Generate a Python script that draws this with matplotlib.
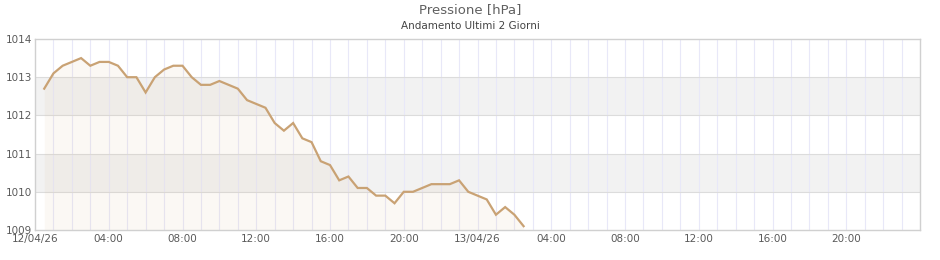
import matplotlib
matplotlib.use("Agg")
import matplotlib.pyplot as plt
import numpy as np

# ore dall'inizio del 12/04/26, una lettura ogni 30 minuti
ore = [0.5 * i for i in range(1, 54)]
pressione = [
    1012.7, 1013.1, 1013.3, 1013.4, 1013.5, 1013.3, 1013.4, 1013.4, 1013.3, 1013.0,
    1013.0, 1012.6, 1013.0, 1013.2, 1013.3, 1013.3, 1013.0, 1012.8, 1012.8, 1012.9,
    1012.8, 1012.7, 1012.4, 1012.3, 1012.2, 1011.8, 1011.6, 1011.8, 1011.4, 1011.3,
    1010.8, 1010.7, 1010.3, 1010.4, 1010.1, 1010.1, 1009.9, 1009.9, 1009.7, 1010.0,
    1010.0, 1010.1, 1010.2, 1010.2, 1010.2, 1010.3, 1010.0, 1009.9, 1009.8, 1009.4,
    1009.6, 1009.4, 1009.1,
]
tick_ore = [0, 4, 8, 12, 16, 20, 24, 28, 32, 36, 40, 44]
tick_label = ["12/04/26", "04:00", "08:00", "12:00", "16:00", "20:00",
              "13/04/26", "04:00", "08:00", "12:00", "16:00", "20:00"]

fig = plt.figure(figsize=(9.4, 2.6), dpi=100)
ax = fig.add_axes([35 / 940, 30 / 260, 885 / 940, 191 / 260])

ymin, ymax = 1009, 1014
ax.set_xlim(0, 48)
ax.set_ylim(ymin, ymax)

# bande alternate
for y0 in (1010, 1012):
    ax.axhspan(y0, y0 + 1, color="#f2f2f2", zorder=0, lw=0)

# griglia verticale oraria
for h in range(1, 48):
    ax.axvline(h, color="#e8e8f8", lw=0.8, zorder=1)
for y in range(ymin + 1, ymax):
    ax.axhline(y, color="#dcdcdc", lw=0.8, zorder=1)

x = np.array(ore)
y = np.array(pressione)
ax.fill_between(x, y, ymin, color="#d9b48a", alpha=0.09, lw=0, zorder=2)
ax.plot(x, y, color="#c9a274", lw=1.6, zorder=3, solid_joinstyle="miter")

ax.set_xticks(tick_ore)
ax.set_xticklabels(tick_label)
ax.set_yticks(range(ymin, ymax + 1))
ax.tick_params(axis="both", length=0, labelsize=7.5, colors="#5a5a5a", pad=3)
ax.tick_params(axis="y", pad=2)
for s in ax.spines.values():
    s.set_color("#d0d0d0")
    s.set_linewidth(1)

fig.text(0.5, 1 - 10 / 260, "Pressione [hPa]", ha="center", va="center",
         fontsize=9.5, color="#606060")
fig.text(0.5, 1 - 26 / 260, "Andamento Ultimi 2 Giorni", ha="center", va="center",
         fontsize=7.5, color="#444444")

fig.savefig("out.png", dpi=100)
